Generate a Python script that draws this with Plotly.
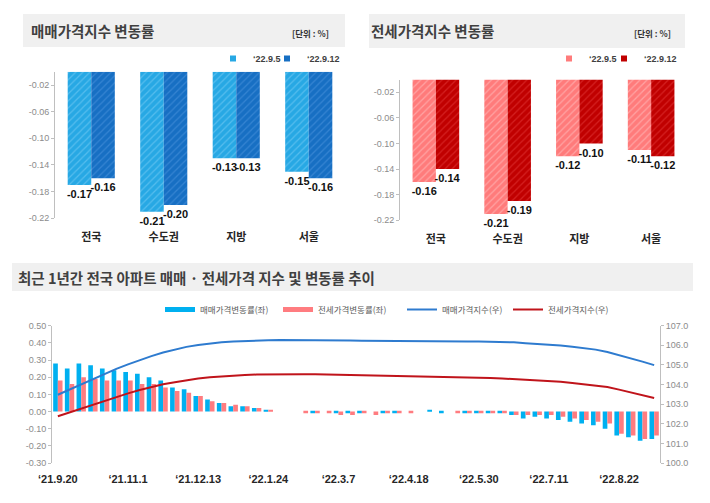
import plotly.graph_objects as go
import pandas as pd

# ---------------- top charts data ----------------
regions = ["전국", "수도권", "지방", "서울"]
period_names = ["‘22.9.5", "‘22.9.12"]
sale_rate_0905 = [-0.17, -0.21, -0.13, -0.15]
sale_rate_0912 = [-0.16, -0.20, -0.13, -0.16]
jeonse_rate_0905 = [-0.16, -0.21, -0.12, -0.11]
jeonse_rate_0912 = [-0.14, -0.19, -0.10, -0.12]
top_yticks = [-0.02, -0.06, -0.10, -0.14, -0.18, -0.22]

# ---------------- bottom chart data ----------------
weeks = [f"‘{d:%y}.{d.month}.{d.day}" for d in pd.date_range("2021-09-20", periods=52, freq="7D")]
week_tick_labels = ["‘21.9.20", "‘21.11.1", "‘21.12.13", "‘22.1.24", "‘22.3.7",
                    "‘22.4.18", "‘22.5.30", "‘22.7.11", "‘22.8.22"]
sale_rate = [0.28, 0.25, 0.28, 0.27, 0.25, 0.24, 0.23, 0.22, 0.20, 0.18,
             0.14, 0.13, 0.09, 0.07, 0.05, 0.03, 0.03, 0.02, 0.01, 0.00,
             0.00, 0.00, -0.01, 0.00, -0.01, -0.01, -0.01, 0.00, -0.01, -0.01,
             0.00, 0.00, 0.01, -0.01, 0.00, -0.01, -0.01, -0.01, -0.01, -0.02,
             -0.04, -0.03, -0.04, -0.05, -0.06, -0.07, -0.08, -0.10, -0.14, -0.15,
             -0.17, -0.16]
jeonse_rate = [0.18, 0.16, 0.20, 0.19, 0.18, 0.18, 0.18, 0.16, 0.16, 0.14,
               0.12, 0.11, 0.09, 0.06, 0.05, 0.04, 0.03, 0.02, 0.01, 0.00,
               0.00, -0.01, -0.01, -0.01, -0.02, -0.02, -0.01, -0.02, -0.01, -0.01,
               -0.01, 0.00, 0.00, 0.00, -0.01, -0.01, -0.01, -0.01, -0.01, -0.02,
               -0.02, -0.02, -0.02, -0.03, -0.04, -0.05, -0.06, -0.07, -0.13, -0.14,
               -0.16, -0.14]
sale_index = [103.48, 103.75, 104.03, 104.30, 104.55, 104.80, 105.03, 105.25, 105.45, 105.63,
              105.78, 105.92, 106.02, 106.10, 106.15, 106.19, 106.22, 106.25, 106.26, 106.27,
              106.27, 106.27, 106.26, 106.26, 106.25, 106.24, 106.23, 106.23, 106.22, 106.21,
              106.21, 106.21, 106.21, 106.21, 106.20, 106.20, 106.19, 106.18, 106.17, 106.15,
              106.11, 106.08, 106.04, 105.99, 105.93, 105.86, 105.78, 105.66, 105.50, 105.35,
              105.17, 104.99]
jeonse_index = [102.38, 102.58, 102.78, 102.98, 103.18, 103.37, 103.55, 103.72, 103.87, 104.01,
                104.12, 104.22, 104.31, 104.37, 104.42, 104.46, 104.49, 104.51, 104.52, 104.53,
                104.53, 104.53, 104.52, 104.51, 104.49, 104.47, 104.46, 104.44, 104.43, 104.42,
                104.41, 104.41, 104.40, 104.40, 104.39, 104.37, 104.35, 104.33, 104.31, 104.28,
                104.25, 104.22, 104.19, 104.14, 104.08, 104.02, 103.95, 103.87, 103.74, 103.60,
                103.45, 103.31]
series_names = ["매매가격변동률(좌)", "전세가격변동률(좌)", "매매가격지수(우)", "전세가격지수(우)"]
left_ticks = [-0.30, -0.20, -0.10, 0.00, 0.10, 0.20, 0.30, 0.40, 0.50]
right_ticks = [100.0, 101.0, 102.0, 103.0, 104.0, 105.0, 106.0, 107.0]

# ---------------- styles ----------------
KFONT = "Noto Sans CJK KR"
NUMFONT = "Liberation Sans, Arial, sans-serif"
PAGE_W, PAGE_H, OFF = 710, 503, 8          # page body has an 8px margin
W, H = PAGE_W - OFF, PAGE_H - OFF


def px_x(v):
    return (v - OFF) / W


def px_y(v):
    return 1 - (v - OFF) / H


fig = go.Figure()


def add_top_bars(vals_a, vals_b, cols, stripe_cols, xa, ya, legends):
    for i, (vals, c, sc) in enumerate(zip([vals_a, vals_b], cols, stripe_cols)):
        fig.add_trace(go.Bar(
            x=regions, y=vals, xaxis=xa, yaxis=ya,
            width=0.325, offset=-0.325 if i == 0 else 0.0,
            marker=dict(color=c, line=dict(width=0),
                        pattern=dict(shape="/", size=5, solidity=0.25,
                                     fgcolor=sc, bgcolor=c, fillmode="replace")),
            text=[f"{v:.2f}" for v in vals], textposition="outside",
            textfont=dict(family=NUMFONT, size=11, color="#111111", weight="bold"),
            cliponaxis=False, constraintext="none", showlegend=False,
            hoverinfo="skip"))
        fig.add_trace(go.Scatter(
            x=[None], y=[None], xaxis=xa, yaxis=ya, mode="markers",
            marker=dict(symbol="square", size=6, color=c),
            name=period_names[i], legend=legends[i], showlegend=True))


add_top_bars(sale_rate_0905, sale_rate_0912, ["#27a8e4", "#176fc3"], ["#55bdee", "#3584d2"],
             "x", "y", ["legend", "legend2"])
add_top_bars(jeonse_rate_0905, jeonse_rate_0912, ["#ff7b7b", "#c00000"], ["#ffa3a3", "#d42020"],
             "x2", "y2", ["legend3", "legend4"])

# bottom chart bars
fig.add_trace(go.Bar(x=weeks, y=sale_rate, xaxis="x3", yaxis="y3", width=0.4, offset=-0.4,
                     marker=dict(color="#00b0f0", line=dict(width=0)), showlegend=False,
                     name=series_names[0]))
fig.add_trace(go.Bar(x=weeks, y=jeonse_rate, xaxis="x3", yaxis="y3", width=0.4, offset=0.0,
                     marker=dict(color="#ff7c80", line=dict(width=0)), showlegend=False,
                     name=series_names[1]))
# legend proxies for bars
fig.add_trace(go.Scatter(x=[None], y=[None], xaxis="x3", yaxis="y3", mode="lines",
                         line=dict(color="#00b0f0", width=5), name=series_names[0], legend="legend5"))
fig.add_trace(go.Scatter(x=[None], y=[None], xaxis="x3", yaxis="y3", mode="lines",
                         line=dict(color="#ff7c80", width=5), name=series_names[1], legend="legend6"))
# index lines
fig.add_trace(go.Scatter(x=weeks, y=sale_index, xaxis="x3", yaxis="y4", mode="lines",
                         line=dict(color="#2e7bcf", width=2), name=series_names[2], legend="legend7"))
fig.add_trace(go.Scatter(x=weeks, y=jeonse_index, xaxis="x3", yaxis="y4", mode="lines",
                         line=dict(color="#c0141b", width=2), name=series_names[3], legend="legend8"))

axis_gray = "#bfbfbf"
tick_gray = "#8c8c8c"

tl_dom_x = [px_x(55), px_x(345)]
tl_dom_y = [px_y(218.3), px_y(71.7)]
tr_dom_x = [px_x(400), px_x(687)]
tr_dom_y = [px_y(220.3), px_y(79.5)]
b_dom_x = [px_x(52), px_x(660)]
b_dom_y = [px_y(463), px_y(325.7)]
zero_frac = b_dom_y[0] + (0 - (-0.3)) / 0.8 * (b_dom_y[1] - b_dom_y[0])


def top_x(dom, anchor):
    return dict(domain=dom, anchor=anchor, type="category", range=[-0.5, 3.5],
                showline=False, ticks="", showgrid=False, zeroline=False, automargin=False,
                tickfont=dict(family=KFONT, size=11, color="#262626", weight="bold"),
                ticklabelstandoff=11)


def top_y(dom, anchor):
    return dict(domain=dom, anchor=anchor, range=[-0.22, 0], tickvals=top_yticks,
                ticktext=[f"{v:.2f}" for v in top_yticks], showgrid=False, zeroline=False,
                showline=True, linecolor=axis_gray, ticks="outside", ticklen=3, tickcolor=axis_gray,
                automargin=False,
                tickfont=dict(family="Liberation Sans", size=9, color=tick_gray))


def top_line(dom, pos, over):
    return dict(domain=dom, anchor="free", position=pos, side="top", type="linear",
                range=[-0.5, 3.5], tickmode="linear", tick0=-0.5, dtick=1, ticks="outside",
                ticklen=3, tickcolor=axis_gray, showline=True, linecolor=axis_gray,
                showticklabels=False, showgrid=False, zeroline=False, overlaying=over,
                automargin=False)


def small_legend(x_px, y_px, font):
    return dict(orientation="h", x=px_x(x_px), y=px_y(y_px), xanchor="left", yanchor="top",
                font=font, bgcolor="rgba(0,0,0,0)", itemwidth=30)


top_leg_font = dict(family="Liberation Sans", size=9, color="#404040", weight="bold")
bot_leg_font = dict(family=KFONT, size=8.5, color="#595959")

fig.update_layout(
    width=W, height=H, margin=dict(l=0, r=0, t=0, b=0, autoexpand=False),
    paper_bgcolor="white", plot_bgcolor="rgba(0,0,0,0)",
    barmode="overlay", hovermode=False,
    xaxis=top_x(tl_dom_x, "y"), yaxis=top_y(tl_dom_y, "x"),
    xaxis2=top_x(tr_dom_x, "y2"), yaxis2=top_y(tr_dom_y, "x2"),
    xaxis3=dict(domain=b_dom_x, anchor="y3", type="category", categoryorder="array",
                categoryarray=weeks, range=[-0.5, 51.5], tickmode="array",
                tickvals=week_tick_labels, ticktext=week_tick_labels, showline=False, ticks="",
                showgrid=False, zeroline=False, ticklabelstandoff=8, automargin=False,
                tickfont=dict(family="Liberation Sans", size=11, color="#262626", weight="bold")),
    yaxis3=dict(domain=b_dom_y, anchor="x3", range=[-0.3, 0.5], tickvals=left_ticks,
                ticktext=[f"{v:.2f}" for v in left_ticks], showgrid=False, zeroline=False,
                showline=True, linecolor=axis_gray, ticks="outside", ticklen=3, tickcolor=axis_gray,
                automargin=False,
                tickfont=dict(family="Liberation Sans", size=9, color=tick_gray)),
    yaxis4=dict(domain=b_dom_y, anchor="x3", overlaying="y3", side="right", range=[100, 107],
                tickvals=right_ticks, ticktext=[f"{v:.1f}" for v in right_ticks],
                showgrid=False, zeroline=False, showline=True, linecolor=axis_gray,
                ticks="outside", ticklen=3, tickcolor=axis_gray, automargin=False,
                tickfont=dict(family="Liberation Sans", size=9, color=tick_gray)),
    xaxis4=dict(domain=b_dom_x, anchor="free", position=zero_frac, overlaying="x3", type="linear",
                range=[-0.5, 51.5], tickmode="linear", tick0=-0.5, dtick=1, ticks="outside",
                ticklen=3, tickcolor=axis_gray, showline=True, linecolor=axis_gray,
                showticklabels=False, showgrid=False, zeroline=False, automargin=False),
    xaxis5=top_line(tl_dom_x, tl_dom_y[1], "x"),
    xaxis6=top_line(tr_dom_x, tr_dom_y[1], "x2"),
    legend=small_legend(213, 44, top_leg_font),
    legend2=small_legend(267, 44, top_leg_font),
    legend3=small_legend(549, 44, top_leg_font),
    legend4=small_legend(604, 44, top_leg_font),
    legend5=small_legend(160, 295, bot_leg_font),
    legend6=small_legend(278, 295, bot_leg_font),
    legend7=small_legend(402, 295, bot_leg_font),
    legend8=small_legend(508, 295, bot_leg_font),
)

# title bars
title_bg = "#f0f0f0"
for (x0, y0, x1, y1) in [(23, 14, 345, 47), (369, 14, 685, 48), (12, 263, 693, 291)]:
    fig.add_shape(type="rect", xref="paper", yref="paper", x0=px_x(x0), x1=px_x(x1),
                  y0=px_y(y1), y1=px_y(y0), fillcolor=title_bg, line=dict(width=0), layer="below")

titles = [("매매가격지수 변동률", 29, 31), ("전세가격지수 변동률", 369, 31),
          ("최근 1년간 전국 아파트 매매 · 전세가격 지수 및 변동률 추이", 16, 277)]
for t, x, y in titles:
    fig.add_annotation(text=t, xref="paper", yref="paper", x=px_x(x), y=px_y(y),
                       xanchor="left", yanchor="middle", showarrow=False,
                       font=dict(family=KFONT, size=14.5, color="#404040", weight="bold"))
for x in [331, 673]:
    fig.add_annotation(text="[단위 : %]", xref="paper", yref="paper", x=px_x(x), y=px_y(33),
                       xanchor="right", yanchor="middle", showarrow=False,
                       font=dict(family=KFONT, size=8.5, color="#333333", weight="bold"))

fig.write_html("out.html")
